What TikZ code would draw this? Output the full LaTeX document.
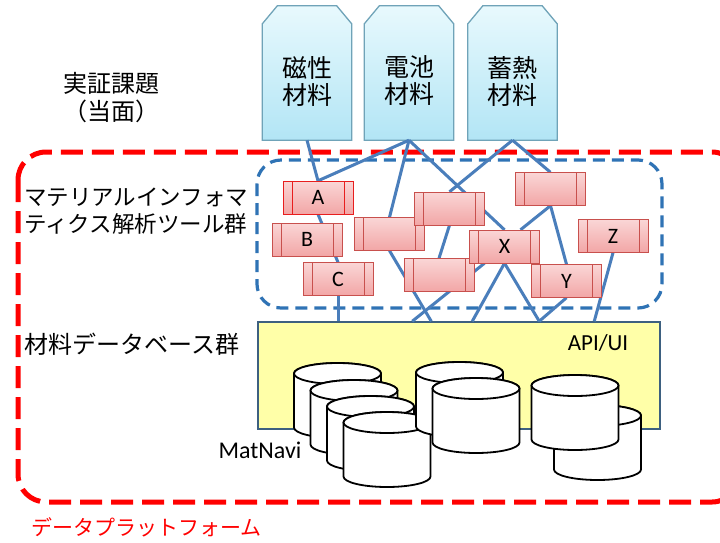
\documentclass[tikz,border=0pt]{standalone}
\usepackage{fontspec}
\setmainfont{Noto Sans CJK JP}
\newfontfamily\lat{Carlito}
\usetikzlibrary{calc}
\definecolor{conncol}{HTML}{4A7EBB}
\definecolor{bluedash}{HTML}{2F73B5}
\definecolor{reddash}{HTML}{FF0000}
\definecolor{pinkT}{HTML}{FAD6D6}
\definecolor{pinkB}{HTML}{F2A6A6}
\definecolor{pinkD}{HTML}{C8504D}
\definecolor{pinkA}{HTML}{E81E1E}
\definecolor{matT}{HTML}{E8F9FD}
\definecolor{matB}{HTML}{B2E5F5}
\definecolor{matD}{HTML}{6FA3B8}
\definecolor{yel}{HTML}{FFFFA8}
\definecolor{yelD}{HTML}{3D6080}
\tikzset{
  conn/.style={conncol, line width=3pt},
  tool/.style={rectangle, minimum width=70pt, minimum height=33pt, inner sep=0pt,
    top color=pinkT, bottom color=pinkB, draw=#1, line width=1pt,
    font=\lat\fontsize{22}{22}\selectfont,
    path picture={
      \draw[#1, line width=1pt] ([xshift=9pt]path picture bounding box.north west) -- ([xshift=9pt]path picture bounding box.south west);
      \draw[#1, line width=1pt] ([xshift=-9pt]path picture bounding box.north east) -- ([xshift=-9pt]path picture bounding box.south east);
    }},
  tool/.default=pinkD,
  matbox/.style={rectangle, minimum width=89pt, minimum height=134pt, inner sep=0pt},
  matshape/.style={top color=matT, bottom color=matB, draw=matD, line width=1.3pt},
  mattext/.style={align=center, inner sep=0pt, font=\fontsize{25}{27}\selectfont},
  cyl/.style={fill=white, draw=black, line width=1.8pt},
  lbl/.style={inner sep=0pt, anchor=west, align=left},
}
\newcommand\dbcyl[2]{%
  \filldraw[cyl] (#1-43.5, #2+10.5) -- (#1-43.5, #2+64.5)
    arc[start angle=180, end angle=0, x radius=43.5, y radius=10.5]
    -- (#1+43.5, #2+10.5)
    arc[start angle=0, end angle=-180, x radius=43.5, y radius=10.5] -- cycle;
  \draw[cyl] (#1, #2+10.5) ellipse[x radius=43.5, y radius=10.5];
}
\newcommand\matdraw[1]{%
  \path[matshape] (#1.south west) -- ([yshift=-18pt]#1.north west) -- ([xshift=15pt]#1.north west)
    -- ([xshift=-15pt]#1.north east) -- ([yshift=-18pt]#1.north east) -- (#1.south east) -- cycle;
}
\begin{document}
\begin{tikzpicture}[x=1pt, y=-1pt]
\useasboundingbox (0,0) rectangle (720,542);
\clip (0,0) rectangle (720,542);
\fill[white] (0,0) rectangle (720,542);

% left labels
\node[lbl, font=\fontsize{24}{28}\selectfont] (t1) at (63,98) {実証課題\\（当面）};
\node[lbl, font=\fontsize{22.5}{27}\selectfont] (t2) at (24,211) {マテリアルインフォマ\\ティクス解析ツール群};
\node[lbl, font=\fontsize{24}{28}\selectfont] (t3) at (24,344) {材料データベース群};
\node[lbl, font=\fontsize{21}{24}\selectfont, text=reddash] (t4) at (31,527) {データプラットフォーム};

% dashed frames
\draw[reddash, line width=5pt, dash pattern=on 22pt off 9pt, rounded corners=28pt] (18,152) rectangle (740,502);
\draw[bluedash, line width=3.2pt, dash pattern=on 12pt off 7pt, rounded corners=24pt] (257,160) rectangle (662,308);

% material boxes
\node[matbox] (mag) at (307,73) {};
\node[matbox] (bat) at (409,73) {};
\node[matbox] (heat) at (512.5,73) {};
\matdraw{mag}
\matdraw{bat}
\matdraw{heat}
\node[mattext] (magt) at ([yshift=-8pt]mag.center) {磁性\\材料};
\node[mattext] (batt) at ([yshift=-8pt]bat.center) {電池\\材料};
\node[mattext] (heatt) at ([yshift=-8pt]heat.center) {蓄熱\\材料};

% database box
\node[rectangle, minimum width=402pt, minimum height=107pt, inner sep=0pt, fill=yel, draw=yelD, line width=1.5pt] (db) at (459,375.5) {};
\node[inner sep=0pt, font=\lat\fontsize{23}{23}\selectfont] (api) at (598,343) {API/UI};

% tool boxes (positions only, drawn later)
\path (318,197.5) coordinate (Ac) (307,239.5) coordinate (Bc) (338,279) coordinate (Cc)
      (389.5,234) coordinate (E1c) (449.5,208.5) coordinate (E2c) (439,275) coordinate (E3c)
      (550.5,189) coordinate (E4c) (504.5,246.5) coordinate (Xc) (566.5,281) coordinate (Yc)
      (613,236) coordinate (Zc);
\begin{scope}[every node/.style={minimum width=70pt, minimum height=33pt, inner sep=0pt}]
\path node (A) at (Ac) {} node (B) at (Bc) {} node (C) at (Cc) {}
      node (E1) at (E1c) {} node (E2) at (E2c) {} node (E3) at (E3c) {}
      node (E4) at (E4c) {} node (X) at (Xc) {} node (Y) at (Yc) {} node (Z) at (Zc) {};
\end{scope}

% connectors
\draw[conn] (mag.south) -- (A.north);
\draw[conn] (A.north) -- (bat.south);
\draw[conn] (bat.south) -- (E1.north);
\draw[conn] (bat.south) -- (X.north);
\draw[conn] (heat.south) -- (E2.north);
\draw[conn] (heat.south) -- (E4.north);
\draw[conn] (A.south) -- (C.north);
\draw[conn] (C.south) -- (C.south |- db.north);
\draw[conn] (E1.south) -- ($(db.north west)+(174,0)$);
\draw[conn] (E2.south) -- (E3.north);
\draw[conn] (E4.south) -- ($(X.north)+(16,0)$);
\draw[conn] (E4.south) -- (Y.north);
\draw[conn] (X.south) -- ($(db.north west)+(215,0)$);
\draw[conn] (X.south) -- ($(db.north west)+(282,0)$);
\draw[conn] (Y.south) -- ($(db.north west)+(282,0)$);
\draw[conn] (Z.south) -- ($(db.north west)+(337,0)$);
\draw[conn] ($(db.north west)+(155,0)$) -- ($(X.south)+(-20,0)$);

% tool boxes drawn
\node[tool=pinkA] (Ad) at (Ac) {A};
\node[tool] (Bd) at (Bc) {B};
\node[tool] (Cd) at (Cc) {C};
\node[tool] (E1d) at (E1c) {};
\node[tool] (E2d) at (E2c) {};
\node[tool] (E3d) at (E3c) {};
\node[tool] (Xd) at (Xc) {X};
\node[tool] (Yd) at (Yc) {Y};
\node[tool] (E4d) at (E4c) {};
\node[tool] (Zd) at (Zc) {Z};

% database cylinders
\dbcyl{337.5}{363}
\dbcyl{354}{380}
\dbcyl{370.5}{396}
\dbcyl{387}{412}
\dbcyl{459.5}{362}
\dbcyl{476}{378}
\dbcyl{597.5}{405}
\dbcyl{575}{375}

\node[inner sep=0pt, font=\lat\fontsize{24}{24}\selectfont] (mn) at (260,450) {MatNavi};
\end{tikzpicture}
\end{document}
